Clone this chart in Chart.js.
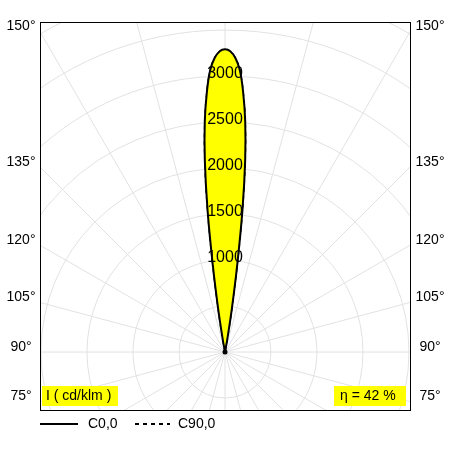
<!DOCTYPE html>
<html>
<head>
<meta charset="utf-8">
<script src="https://cdn.jsdelivr.net/npm/chart.js@4/dist/chart.umd.min.js"></script>
<style>body{margin:0;background:#fff}#c{display:block}</style>
</head>
<body>
<canvas id="c" width="452" height="452"></canvas>
<script>
// deviation from beam axis (deg) and intensity (cd/klm)
var gammas = [0, 1, 2, 3, 4, 5, 6, 7, 8, 9, 10, 11];
var c0 = [3290, 3270, 3200, 3070, 2830, 2520, 2100, 1560, 950, 480, 160, 0];
var c90 = [3290, 3270, 3200, 3070, 2830, 2520, 2100, 1560, 950, 480, 160, 0];
var ringLabels = [1000, 1500, 2000, 2500, 3000];
var angleLabels = [75, 90, 105, 120, 135, 150];

function toXY(vals) {
    var pts = [];
    for (var i = gammas.length - 1; i > 0; i--) {
        var a = -gammas[i] * Math.PI / 180;
        pts.push({x: vals[i] * Math.sin(a), y: vals[i] * Math.cos(a)});
    }
    for (var j = 0; j < gammas.length; j++) {
        var b = gammas[j] * Math.PI / 180;
        pts.push({x: vals[j] * Math.sin(b), y: vals[j] * Math.cos(b)});
    }
    return pts;
}

var polarGrid = {
    id: 'polarGrid',
    beforeDatasetsDraw: function (chart) {
        var ctx = chart.ctx, a = chart.chartArea;
        var xs = chart.scales.x, ys = chart.scales.y;
        var ox = xs.getPixelForValue(0), oy = ys.getPixelForValue(0);
        var k = xs.getPixelForValue(1000) - ox;
        ctx.save();
        ctx.beginPath(); ctx.rect(a.left, a.top, a.right - a.left, a.bottom - a.top); ctx.clip();
        ctx.strokeStyle = '#e2e2e2'; ctx.lineWidth = 1;
        for (var r = 500; r <= 6000; r += 500) {
            ctx.beginPath(); ctx.arc(ox, oy, r * k / 1000, 0, Math.PI * 2); ctx.stroke();
        }
        for (var d = 0; d < 360; d += 15) {
            var t = d * Math.PI / 180;
            ctx.beginPath(); ctx.moveTo(ox, oy);
            ctx.lineTo(ox + 1000 * Math.cos(t), oy + 1000 * Math.sin(t)); ctx.stroke();
        }
        ctx.restore();
    },
    afterDraw: function (chart) {
        var ctx = chart.ctx, a = chart.chartArea;
        var xs = chart.scales.x, ys = chart.scales.y;
        var ox = xs.getPixelForValue(0), oy = ys.getPixelForValue(0);
        ctx.save();
        ctx.fillStyle = '#000';
        ctx.beginPath(); ctx.arc(ox, oy, 2.5, 0, Math.PI * 2); ctx.fill();
        ctx.font = '16px "Liberation Sans", Arial';
        ctx.textAlign = 'center'; ctx.textBaseline = 'middle';
        ringLabels.forEach(function (v) {
            ctx.fillText(String(v), ox, ys.getPixelForValue(v) - 2);
        });
        ctx.font = '14px "Liberation Sans", Arial';
        angleLabels.forEach(function (deg) {
            var t = (deg - 90) * Math.PI / 180;
            var y = oy - (ox - a.left) * Math.tan(t) - 5;
            ctx.fillText(deg + '°', 21, y);
            ctx.fillText(deg + '°', 430, y);
        });
        ctx.strokeStyle = '#000'; ctx.lineWidth = 1;
        ctx.strokeRect(a.left + 0.5, a.top + 0.5, a.right - a.left, a.bottom - a.top);
        // yellow boxes
        ctx.fillStyle = '#ffff00';
        ctx.fillRect(a.left + 2, a.bottom - 24, 76, 20);
        ctx.fillRect(a.right - 76, a.bottom - 24, 72, 20);
        ctx.fillStyle = '#000'; ctx.font = '14px "Liberation Sans", Arial';
        ctx.textAlign = 'left';
        ctx.fillText('I ( cd/klm )', a.left + 6, a.bottom - 14);
        ctx.fillText('η = 42 %', a.right - 70, a.bottom - 14);
        // legend
        ctx.font = '14px "Liberation Sans", Arial';
        ctx.lineWidth = 2;
        ctx.beginPath(); ctx.moveTo(40, 424); ctx.lineTo(78, 424); ctx.stroke();
        ctx.fillText('C0,0', 88, 424);
        ctx.setLineDash([4, 4]);
        ctx.beginPath(); ctx.moveTo(135, 424); ctx.lineTo(170, 424); ctx.stroke();
        ctx.setLineDash([]);
        ctx.fillText('C90,0', 178, 424);
        ctx.restore();
    }
};

var ctx = document.getElementById("c").getContext('2d');
var myChart = new Chart(ctx, {
    type: 'scatter',
    data: {
        datasets: [{
            label: 'C0,0',
            data: toXY(c0),
            showLine: true,
            borderColor: '#000',
            borderWidth: 2,
            backgroundColor: '#ffff00',
            fill: 'shape',
            pointRadius: 0,
            tension: 0.4
        }, {
            label: 'C90,0',
            data: toXY(c90),
            showLine: true,
            borderColor: '#000',
            borderWidth: 1.5,
            borderDash: [4, 4],
            fill: false,
            pointRadius: 0,
            tension: 0.4
        }]
    },
    options: {
        responsive: false,
        animation: false,
        layout: {padding: {left: 40, right: 42, top: 22, bottom: 42}},
        plugins: {legend: {display: false}, tooltip: {enabled: false}},
        scales: {
            x: {display: false, min: -2011, max: 2011},
            y: {display: false, min: -630, max: 3587}
        }
    },
    plugins: [polarGrid]
});
</script>
</body>
</html>
